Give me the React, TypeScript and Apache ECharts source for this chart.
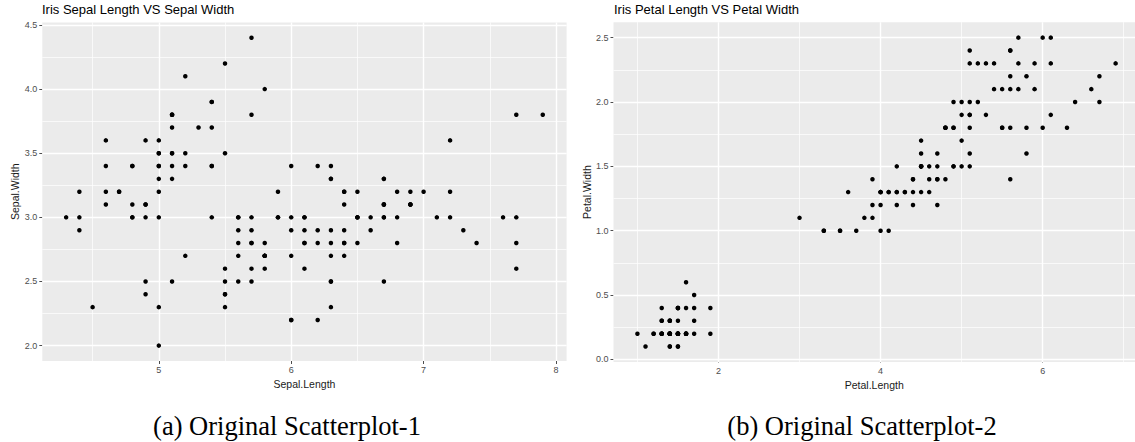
import React, { useEffect, useRef } from "react";
import * as echarts from "echarts";

// Iris dataset (150 observations)
const sepalLength = [
  5.1, 4.9, 4.7, 4.6, 5.0, 5.4, 4.6, 5.0, 4.4, 4.9, 5.4, 4.8, 4.8, 4.3, 5.8, 5.7, 5.4, 5.1, 5.7, 5.1,
  5.4, 5.1, 4.6, 5.1, 4.8, 5.0, 5.0, 5.2, 5.2, 4.7, 4.8, 5.4, 5.2, 5.5, 4.9, 5.0, 5.5, 4.9, 4.4, 5.1,
  5.0, 4.5, 4.4, 5.0, 5.1, 4.8, 5.1, 4.6, 5.3, 5.0,
  7.0, 6.4, 6.9, 5.5, 6.5, 5.7, 6.3, 4.9, 6.6, 5.2, 5.0, 5.9, 6.0, 6.1, 5.6, 6.7, 5.6, 5.8, 6.2, 5.6,
  5.9, 6.1, 6.3, 6.1, 6.4, 6.6, 6.8, 6.7, 6.0, 5.7, 5.5, 5.5, 5.8, 6.0, 5.4, 6.0, 6.7, 6.3, 5.6, 5.5,
  5.5, 6.1, 5.8, 5.0, 5.6, 5.7, 5.7, 6.2, 5.1, 5.7,
  6.3, 5.8, 7.1, 6.3, 6.5, 7.6, 4.9, 7.3, 6.7, 7.2, 6.5, 6.4, 6.8, 5.7, 5.8, 6.4, 6.5, 7.7, 7.7, 6.0,
  6.9, 5.6, 7.7, 6.3, 6.7, 7.2, 6.2, 6.1, 6.4, 7.2, 7.4, 7.9, 6.4, 6.3, 6.1, 7.7, 6.3, 6.4, 6.0, 6.9,
  6.7, 6.9, 5.8, 6.8, 6.7, 6.7, 6.3, 6.5, 6.2, 5.9,
];
const sepalWidth = [
  3.5, 3.0, 3.2, 3.1, 3.6, 3.9, 3.4, 3.4, 2.9, 3.1, 3.7, 3.4, 3.0, 3.0, 4.0, 4.4, 3.9, 3.5, 3.8, 3.8,
  3.4, 3.7, 3.6, 3.3, 3.4, 3.0, 3.4, 3.5, 3.4, 3.2, 3.1, 3.4, 4.1, 4.2, 3.1, 3.2, 3.5, 3.6, 3.0, 3.4,
  3.5, 2.3, 3.2, 3.5, 3.8, 3.0, 3.8, 3.2, 3.7, 3.3,
  3.2, 3.2, 3.1, 2.3, 2.8, 2.8, 3.3, 2.4, 2.9, 2.7, 2.0, 3.0, 2.2, 2.9, 2.9, 3.1, 3.0, 2.7, 2.2, 2.5,
  3.2, 2.8, 2.5, 2.8, 2.9, 3.0, 2.8, 3.0, 2.9, 2.6, 2.4, 2.4, 2.7, 2.7, 3.0, 3.4, 3.1, 2.3, 3.0, 2.5,
  2.6, 3.0, 2.6, 2.3, 2.7, 3.0, 2.9, 2.9, 2.5, 2.8,
  3.3, 2.7, 3.0, 2.9, 3.0, 3.0, 2.5, 2.9, 2.5, 3.6, 3.2, 2.7, 3.0, 2.5, 2.8, 3.2, 3.0, 3.8, 2.6, 2.2,
  3.2, 2.8, 2.8, 2.7, 3.3, 3.2, 2.8, 3.0, 2.8, 3.0, 2.8, 3.8, 2.8, 2.8, 2.6, 3.0, 3.4, 3.1, 3.0, 3.1,
  3.1, 3.1, 2.7, 3.2, 3.3, 3.0, 2.5, 3.0, 3.4, 3.0,
];
const petalLength = [
  1.4, 1.4, 1.3, 1.5, 1.4, 1.7, 1.4, 1.5, 1.4, 1.5, 1.5, 1.6, 1.4, 1.1, 1.2, 1.5, 1.3, 1.4, 1.7, 1.5,
  1.7, 1.5, 1.0, 1.7, 1.9, 1.6, 1.6, 1.5, 1.4, 1.6, 1.6, 1.5, 1.5, 1.4, 1.5, 1.2, 1.3, 1.4, 1.3, 1.5,
  1.3, 1.3, 1.3, 1.6, 1.9, 1.4, 1.6, 1.4, 1.5, 1.4,
  4.7, 4.5, 4.9, 4.0, 4.6, 4.5, 4.7, 3.3, 4.6, 3.9, 3.5, 4.2, 4.0, 4.7, 3.6, 4.4, 4.5, 4.1, 4.5, 3.9,
  4.8, 4.0, 4.9, 4.7, 4.3, 4.4, 4.8, 5.0, 4.5, 3.5, 3.8, 3.7, 3.9, 5.1, 4.5, 4.5, 4.7, 4.4, 4.1, 4.0,
  4.4, 4.6, 4.0, 3.3, 4.2, 4.2, 4.2, 4.3, 3.0, 4.1,
  6.0, 5.1, 5.9, 5.6, 5.8, 6.6, 4.5, 6.3, 5.8, 6.1, 5.1, 5.3, 5.5, 5.0, 5.1, 5.3, 5.5, 6.7, 6.9, 5.0,
  5.7, 4.9, 6.7, 4.9, 5.7, 6.0, 4.8, 4.9, 5.6, 5.8, 6.1, 6.4, 5.6, 5.1, 5.6, 6.1, 5.6, 5.5, 4.8, 5.4,
  5.6, 5.1, 5.1, 5.9, 5.7, 5.2, 5.0, 5.2, 5.4, 5.1,
];
const petalWidth = [
  0.2, 0.2, 0.2, 0.2, 0.2, 0.4, 0.3, 0.2, 0.2, 0.1, 0.2, 0.2, 0.1, 0.1, 0.2, 0.4, 0.4, 0.3, 0.3, 0.3,
  0.2, 0.4, 0.2, 0.5, 0.2, 0.2, 0.4, 0.2, 0.2, 0.2, 0.2, 0.4, 0.1, 0.2, 0.2, 0.2, 0.2, 0.1, 0.2, 0.2,
  0.3, 0.3, 0.2, 0.6, 0.4, 0.3, 0.2, 0.2, 0.2, 0.2,
  1.4, 1.5, 1.5, 1.3, 1.5, 1.3, 1.6, 1.0, 1.3, 1.4, 1.0, 1.5, 1.0, 1.4, 1.3, 1.4, 1.5, 1.0, 1.5, 1.1,
  1.8, 1.3, 1.5, 1.2, 1.3, 1.4, 1.4, 1.7, 1.5, 1.0, 1.1, 1.0, 1.2, 1.6, 1.5, 1.6, 1.5, 1.3, 1.3, 1.3,
  1.2, 1.4, 1.2, 1.0, 1.3, 1.2, 1.3, 1.3, 1.1, 1.3,
  2.5, 1.9, 2.1, 1.8, 2.2, 2.1, 1.7, 1.8, 1.8, 2.5, 2.0, 1.9, 2.1, 2.0, 2.4, 2.3, 1.8, 2.2, 2.3, 1.5,
  2.3, 2.0, 2.0, 1.8, 2.1, 1.8, 1.8, 1.8, 2.1, 1.6, 1.9, 2.0, 2.2, 1.5, 1.4, 2.3, 2.4, 1.8, 1.8, 2.1,
  2.4, 2.3, 1.9, 2.3, 2.5, 2.3, 1.9, 2.0, 2.3, 1.8,
];

// Axis breaks
const sepalLengthTicks = [5, 6, 7, 8];
const sepalLengthMinor = [4.5, 5.5, 6.5, 7.5];
const sepalWidthTicks = [2.0, 2.5, 3.0, 3.5, 4.0, 4.5];
const sepalWidthMinor = [2.25, 2.75, 3.25, 3.75, 4.25];
const petalLengthTicks = [2, 4, 6];
const petalLengthMinor = [1, 3, 5, 7];
const petalWidthTicks = [0.0, 0.5, 1.0, 1.5, 2.0, 2.5];
const petalWidthMinor = [0.25, 0.75, 1.25, 1.75, 2.25];

const titles = ["Iris Sepal Length VS Sepal Width", "Iris Petal Length VS Petal Width"];
const captions = ["(a) Original Scatterplot-1", "(b) Original Scatterplot-2"];

const TICK_COLOR = "#4d4d4d";
const PANEL_BG = "#ebebeb";
const SANS = "Liberation Sans, Arial, sans-serif";

function gridLines(xMajor: number[], xMinor: number[], yMajor: number[], yMinor: number[]) {
  const data: any[] = [];
  xMinor.forEach((v) => data.push({ xAxis: v, lineStyle: { width: 0.7 } }));
  yMinor.forEach((v) => data.push({ yAxis: v, lineStyle: { width: 0.7 } }));
  xMajor.forEach((v) => data.push({ xAxis: v, lineStyle: { width: 1.4 } }));
  yMajor.forEach((v) => data.push({ yAxis: v, lineStyle: { width: 1.4 } }));
  return {
    silent: true,
    symbol: ["none", "none"],
    label: { show: false },
    emphasis: { disabled: true },
    z: 1,
    animation: false,
    lineStyle: { color: "#ffffff", type: "solid" },
    data,
  };
}

function xAxisCfg(gridIndex: number, name: string, min: number, max: number, ticks: number[]) {
  return {
    type: "value",
    gridIndex,
    min,
    max,
    name,
    nameLocation: "middle",
    nameGap: 16,
    nameTextStyle: { color: "#1a1a1a", fontSize: 10.5, fontFamily: SANS },
    axisLine: { show: false },
    axisTick: { show: true, length: 3, customValues: ticks, lineStyle: { color: TICK_COLOR, width: 1 } },
    axisLabel: {
      customValues: ticks,
      margin: 4,
      color: TICK_COLOR,
      fontSize: 9,
      fontFamily: SANS,
      formatter: (v: number) => String(v),
    },
    splitLine: { show: false },
  };
}

function yAxisCfg(gridIndex: number, name: string, min: number, max: number, ticks: number[]) {
  return {
    type: "value",
    gridIndex,
    min,
    max,
    name,
    nameLocation: "middle",
    nameGap: 21,
    nameTextStyle: { color: "#1a1a1a", fontSize: 10.5, fontFamily: SANS },
    axisLine: { show: false },
    axisTick: { show: true, length: 3, customValues: ticks, lineStyle: { color: TICK_COLOR, width: 1 } },
    axisLabel: {
      customValues: ticks,
      margin: 5,
      color: TICK_COLOR,
      fontSize: 9,
      fontFamily: SANS,
      formatter: (v: number) => v.toFixed(1),
    },
    splitLine: { show: false },
  };
}

export default function App() {
  const ref = useRef<HTMLDivElement>(null);

  useEffect(() => {
    if (!ref.current) return;
    const chart = echarts.init(ref.current, undefined, { renderer: "svg" });
    const sepalData = sepalLength.map((v, i) => [v, sepalWidth[i]]);
    const petalData = petalLength.map((v, i) => [v, petalWidth[i]]);

    chart.setOption({
      animation: false,
      backgroundColor: "#ffffff",
      title: [
        {
          text: titles[0],
          left: 42,
          top: 3,
          padding: 0,
          textStyle: { fontSize: 13, fontWeight: "normal", color: "#000", fontFamily: SANS },
        },
        {
          text: titles[1],
          left: 614,
          top: 3,
          padding: 0,
          textStyle: { fontSize: 13, fontWeight: "normal", color: "#000", fontFamily: SANS },
        },
      ],
      grid: [
        { left: 42.3, right: 1135 - 566.6, top: 22.4, bottom: 442 - 361, show: true, backgroundColor: PANEL_BG, borderWidth: 0 },
        { left: 613.5, right: 0, top: 22.2, bottom: 442 - 362, show: true, backgroundColor: PANEL_BG, borderWidth: 0 },
      ],
      xAxis: [
        xAxisCfg(0, "Sepal.Length", 4.12, 8.08, sepalLengthTicks),
        xAxisCfg(1, "Petal.Length", 0.705, 7.139, petalLengthTicks),
      ],
      yAxis: [
        yAxisCfg(0, "Sepal.Width", 1.88, 4.52, sepalWidthTicks),
        yAxisCfg(1, "Petal.Width", -0.02, 2.62, petalWidthTicks),
      ],
      series: [
        {
          type: "scatter",
          xAxisIndex: 0,
          yAxisIndex: 0,
          data: sepalData,
          symbolSize: 4.5,
          itemStyle: { color: "#000000", opacity: 1 },
          z: 3,
          silent: true,
          markLine: gridLines(sepalLengthTicks, sepalLengthMinor, sepalWidthTicks, sepalWidthMinor),
        },
        {
          type: "scatter",
          xAxisIndex: 1,
          yAxisIndex: 1,
          data: petalData,
          symbolSize: 4.5,
          itemStyle: { color: "#000000", opacity: 1 },
          z: 3,
          silent: true,
          markLine: gridLines(petalLengthTicks, petalLengthMinor, petalWidthTicks, petalWidthMinor),
        },
      ],
      graphic: [
        {
          type: "text",
          x: 287,
          y: 426,
          style: {
            text: captions[0],
            font: "26.5px 'Liberation Serif', 'Times New Roman', serif",
            fill: "#000",
            textAlign: "center",
            textVerticalAlign: "middle",
          },
        },
        {
          type: "text",
          x: 862,
          y: 426,
          style: {
            text: captions[1],
            font: "26.5px 'Liberation Serif', 'Times New Roman', serif",
            fill: "#000",
            textAlign: "center",
            textVerticalAlign: "middle",
          },
        },
      ],
    });

    return () => {
      chart.dispose();
    };
  }, []);

  return (
    <div
      ref={ref}
      style={{ position: "absolute", left: 0, top: 0, width: 1135, height: 442 }}
    />
  );
}
